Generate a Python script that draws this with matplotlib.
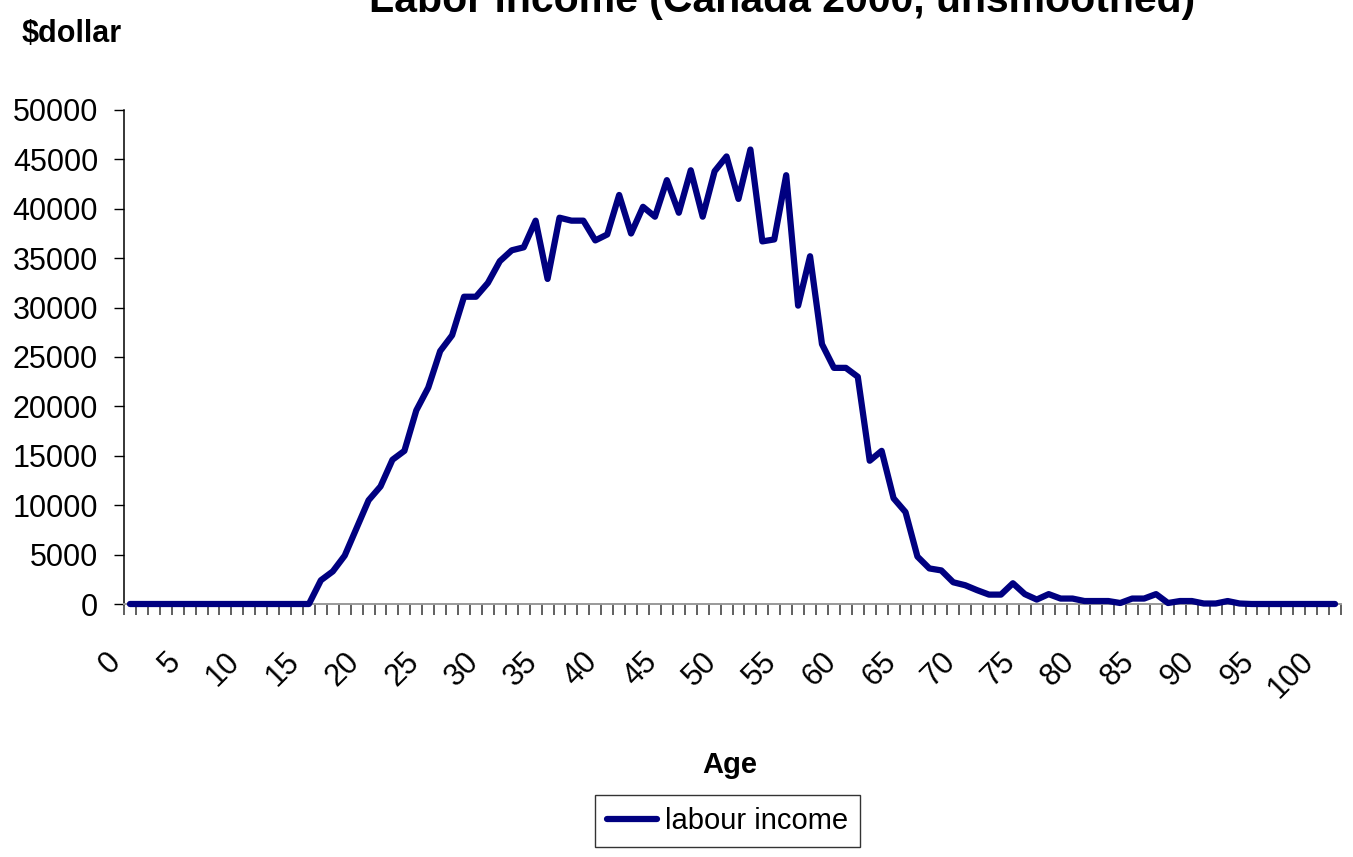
"""
Labor income by single year of age, Canada 2000 (unsmoothed profile).
Excel-style line chart: category x axis, ticks between categories.
"""

import matplotlib

matplotlib.use("Agg")
import matplotlib.pyplot as plt
from matplotlib.transforms import ScaledTranslation

# --- data ----------------------------------------------------------------
AGES = list(range(0, 102))
LABOUR_INCOME = [
    0, 0, 0, 0, 0, 0, 0, 0, 0, 0,                                   # 0-9
    0, 0, 0, 0, 0, 0, 2400, 3300, 4900, 7700,                       # 10-19
    10500, 11900, 14600, 15500, 19600, 21900, 25600, 27200, 31100, 31100,  # 20-29
    32500, 34700, 35800, 36100, 38800, 32900, 39100, 38800, 38800, 36800,  # 30-39
    37400, 41400, 37500, 40200, 39200, 42900, 39600, 43900, 39200, 43800,  # 40-49
    45300, 41000, 46000, 36700, 36900, 43400, 30200, 35200, 26300, 23900,  # 50-59
    23900, 23000, 14500, 15500, 10700, 9300, 4800, 3600, 3400, 2200,       # 60-69
    1900, 1400, 950, 950, 2100, 1000, 450, 1000, 550, 550,                  # 70-79
    300, 300, 300, 100, 550, 550, 1000, 100, 300, 300,                      # 80-89
    50, 50, 300, 50, 0, 0, 0, 0, 0, 0,                                      # 90-99
    0, 0,                                                                   # 100-101
]
X_LABELS = [str(a) for a in range(0, 101, 5)]
Y_TICKS = list(range(0, 50001, 5000))

TITLE = "Labor income (Canada 2000, unsmoothed)"
Y_LABEL = "$dollar"
X_LABEL = "Age"
SERIES_LABEL = "labour income"

SANS = ["Liberation Sans", "DejaVu Sans"]
NAVY = "#000080"

plt.rcParams["font.family"] = SANS

# --- figure / axes -------------------------------------------------------
W, H = 1353, 857
fig = plt.figure(figsize=(W / 100, H / 100), dpi=100)
# plot area in pixels: x 124..1341, y 110..604
ax = fig.add_axes([124 / W, 1 - 604 / H, (1341 - 124) / W, (604 - 110) / H])

ax.plot(AGES, LABOUR_INCOME, color=NAVY, lw=4.5, label=SERIES_LABEL,
        solid_joinstyle="round", solid_capstyle="round", clip_on=False, zorder=3)

ax.set_xlim(-0.5, len(AGES) - 0.5)
ax.set_ylim(0, 50000)

for side in ("top", "right"):
    ax.spines[side].set_visible(False)
ax.spines["left"].set_color("black")
ax.spines["left"].set_linewidth(1.1)
ax.spines["bottom"].set_color("#999999")
ax.spines["bottom"].set_linewidth(1.4)

# y axis
ax.set_yticks(Y_TICKS)
ax.set_yticklabels([str(v) for v in Y_TICKS])
ax.tick_params(axis="y", direction="out", length=7.2, width=1.0, color="black",
               pad=11.5, labelsize=22)

# x axis: tick marks between categories, labels every 5 years at the points
ax.set_xticks([a - 0.5 for a in AGES] + [AGES[-1] + 0.5], minor=True)
ax.set_xticks(list(range(0, 101, 5)))
ax.set_xticklabels(X_LABELS)
ax.tick_params(axis="x", which="minor", direction="out", length=8.2, width=1.2,
               color="#444444")
ax.tick_params(axis="x", which="major", length=0, pad=38.5, labelsize=22)
shift = ScaledTranslation(-14 / 100, 0, fig.dpi_scale_trans)
for lab in ax.get_xticklabels():
    lab.set_rotation(45)
    lab.set_ha("right")
    lab.set_va("center")
    lab.set_rotation_mode("anchor")
    lab.set_transform(lab.get_transform() + shift)

# --- texts ---------------------------------------------------------------
# title sits partly above the canvas, as in the source chart
fig.text(782 / W, 1 - 12 / H, TITLE, ha="center", va="baseline",
         fontsize=29.5, fontweight="bold")
fig.text(22 / W, 1 - 42 / H, Y_LABEL, ha="left", va="baseline",
         fontsize=22, fontweight="bold")
fig.text(730 / W, 1 - 773 / H, X_LABEL, ha="center", va="baseline",
         fontsize=21, fontweight="bold")

# --- legend --------------------------------------------------------------
leg = fig.legend(loc="upper left", bbox_to_anchor=(595 / W, 1 - 795 / H),
                 bbox_transform=fig.transFigure, frameon=True, fancybox=False,
                 prop={"size": 21}, handlelength=1.71,
                 handletextpad=0.27, borderpad=0.41, borderaxespad=0)
leg.get_frame().set_edgecolor("black")
leg.get_frame().set_linewidth(1.0)

fig.savefig("out.png", dpi=100)
